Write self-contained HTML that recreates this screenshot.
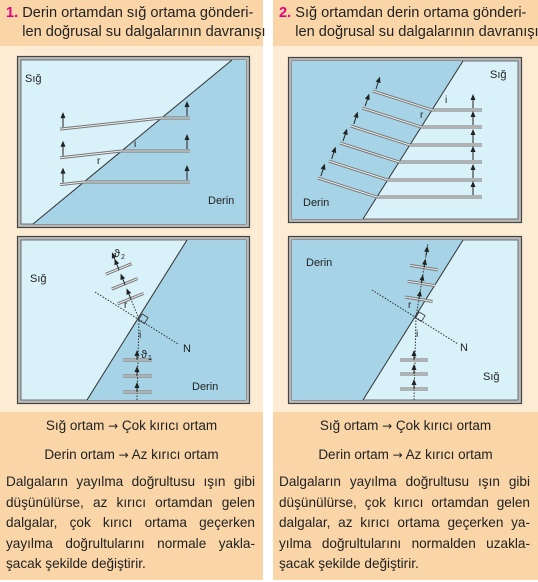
<!DOCTYPE html>
<html><head><meta charset="utf-8">
<style>
html,body{margin:0;padding:0;}
body{width:538px;height:582px;position:relative;background:#fff;font-family:"Liberation Sans",sans-serif;overflow:hidden;}
.col{position:absolute;top:0;height:580px;background:#fdecd4;}
.hdr{position:absolute;left:0;right:0;top:0;height:46px;background:#f9d5a8;}
.ftr{position:absolute;left:0;right:0;top:412px;height:168px;background:#f9d5a8;}
.h{position:absolute;left:6px;top:4px;font-size:14.6px;line-height:19px;color:#222;white-space:nowrap;}
.h b{color:#e4007f;}
.c{position:absolute;left:0;right:0;text-align:center;font-size:13.5px;color:#222;}
.c i{font-style:normal;font-family:"DejaVu Sans",sans-serif;font-size:12px;}
.p{position:absolute;left:6px;right:8px;top:472px;font-size:13.6px;line-height:20.5px;color:#222;text-align:justify;}
svg{position:absolute;left:0;top:0;}
</style></head><body>
<div class="col" style="left:0;width:263px">
 <div class="hdr"></div>
 <div class="h"><b>1.</b> Derin ortamdan sığ ortama gönderi-<br>&nbsp;&nbsp;&nbsp;&nbsp;len doğrusal su dalgalarının davranışı</div>
 <div class="ftr"></div>
 <div class="c" style="top:418px">Sığ ortam <i>→</i> Çok kırıcı ortam</div>
 <div class="c" style="top:447px">Derin ortam <i>→</i> Az kırıcı ortam</div>
 <div class="p">Dalgaların yayılma doğrultusu ışın gibi düşünülürse, az kırıcı ortamdan gelen dalgalar, çok kırıcı ortama geçerken yayılma doğrultularını normale yakla-şacak şekilde değiştirir.</div>
</div>
<div class="col" style="left:273px;width:265px">
 <div class="hdr"></div>
 <div class="h"><b>2.</b> Sığ ortamdan derin ortama gönderi-<br>&nbsp;&nbsp;&nbsp;&nbsp;len doğrusal su dalgalarının davranışı</div>
 <div class="ftr"></div>
 <div class="c" style="top:418px">Sığ ortam <i>→</i> Çok kırıcı ortam</div>
 <div class="c" style="top:447px">Derin ortam <i>→</i> Az kırıcı ortam</div>
 <div class="p">Dalgaların yayılma doğrultusu ışın gibi düşünülürse, çok kırıcı ortamdan gelen dalgalar, az kırıcı ortama geçerken ya-yılma doğrultularını normalden uzakla-şacak şekilde değiştirir.</div>
</div>
<svg id="s" width="538" height="582" font-family="Liberation Sans, sans-serif" font-size="11" fill="#222"></svg>
<script>
const leftRows=[118,151,182];
const rightRows=[110,127,145,162,180,197];
const NS="http://www.w3.org/2000/svg";
const S=document.getElementById('s');
function el(t,a,p){const e=document.createElementNS(NS,t);for(const k in a)e.setAttribute(k,a[k]);(p||S).appendChild(e);return e;}
function frame(x,y,w,h,name){
 const g=el('g',{});
 
 
 el('rect',{x:x+0.5,y:y+0.5,width:w-1,height:h-1,fill:'#b9b9b9',stroke:'#444','stroke-width':1.2},g);
 el('rect',{x:x+4,y:y+4,width:w-8,height:h-8,fill:'#d9f1f9',stroke:'#555','stroke-width':0.8},g);
 return g;}
function wave(g,x1,y1,x2,y2){el('line',{x1,y1,x2,y2,stroke:'#777','stroke-width':3},g);el('line',{x1,y1,x2,y2,stroke:'#eee','stroke-width':1},g);}
function arrow(g,x,y,dx,dy){const L=Math.hypot(dx,dy),ux=dx/L,uy=dy/L;const ex=x+dx,ey=y+dy;
 el('line',{x1:x,y1:y,x2:ex-ux*3,y2:ey-uy*3,stroke:'#222','stroke-width':1},g);
 el('polygon',{points:`${ex},${ey} ${ex-ux*6-uy*2.5},${ey-uy*6+ux*2.5} ${ex-ux*6+uy*2.5},${ey-uy*6-ux*2.5}`,fill:'#222'},g);}
function txt(g,x,y,s,name,sz){const t=el('text',{x,y,'font-size':sz||11},g);t.textContent=s;return t;}
function dots(g,x1,y1,x2,y2){el('line',{x1,y1,x2,y2,stroke:'#333','stroke-width':1,'stroke-dasharray':'1.5,1.5'},g);}
const DARK='#a6d3e5';
{const g=frame(17,56,233,172,'diagram-deep-to-shallow-waves');
 el('polygon',{points:'33,224 232,60 246,60 246,224',fill:DARK},g);
 el('line',{x1:33,y1:224,x2:232,y2:60,stroke:'#333','stroke-width':1},g);
 leftRows.forEach(y=>{const xb=33+(224-y)*199/164;wave(g,xb,y,190,y);wave(g,60,y+(xb-60)*0.11,xb,y);
  arrow(g,63,y+(xb-60)*0.11-2,0,-15);arrow(g,187,y-2,0,-15);});
 txt(g,25,82,'Sığ','label-shallow');txt(g,208,204,'Derin','label-deep');
 txt(g,134,147,'i','angle-i',10);txt(g,97,164,'r','angle-r',10);}
{const g=frame(17,236,233,168,'diagram-deep-to-shallow-ray');
 el('polygon',{points:'87,400 187,240 246,240 246,400',fill:DARK},g);
 el('line',{x1:87,y1:400,x2:187,y2:240,stroke:'#333','stroke-width':1},g);
 const px=139,py=319;dots(g,137,400,px,py);dots(g,95,292,178,344);
 [360,376,392].forEach(y=>{wave(g,123,y,152,y);arrow(g,137,y,0,-10);});
 const dx=-28,dy=-69,L=Math.hypot(dx,dy),ux=dx/L,uy=dy/L;
 dots(g,px,py,px+ux*20,py+uy*20);
 [22,38,54].forEach(d=>{const cx=px+ux*d,cy=py+uy*d;wave(g,cx+uy*14,cy-ux*14,cx-uy*14,cy+ux*14);arrow(g,cx-ux*1,cy-uy*1,ux*12,uy*12);});
 arrow(g,px+ux*62,py+uy*62,ux*10,uy*10);
 txt(g,30,282,'Sığ','label-shallow');txt(g,192,390,'Derin','label-deep');txt(g,183,352,'N','label-normal');
 txt(g,114,257,'ϑ','label-theta2');txt(g,121,259,'2','sub',7);txt(g,141,358,'ϑ','label-theta1');txt(g,148,360,'1','sub',7);
 txt(g,124,308,'r','angle-r',10);txt(g,139,338,'i','angle-i',10);
 el('rect',{x:139,y:313,width:7,height:7,fill:'none',stroke:'#333','stroke-width':0.8,transform:'rotate(32 139 319)'},g);}
{const g=frame(288,57,234,166,'diagram-shallow-to-deep-waves');
 el('polygon',{points:'292,61 463,61 363,219 292,219',fill:DARK},g);
 el('line',{x1:363,y1:219,x2:463,y2:61,stroke:'#333','stroke-width':1},g);
 const L=Math.hypot(56,18),ux=-56/L,uy=-18/L;
 rightRows.forEach(y=>{const xb=363+(219-y)*100/158;wave(g,xb,y,482,y);
  const ex=xb+ux*62,ey=y+uy*62;wave(g,ex,ey,xb,y);arrow(g,ex+3,ey-2,-uy*13,ux*13);arrow(g,473,y-2,0,-14);});
 txt(g,490,78,'Sığ','label-shallow');txt(g,303,206,'Derin','label-deep');
 txt(g,445,103,'i','angle-i',10);txt(g,420,118,'r','angle-r',10);}
{const g=frame(288,236,234,168,'diagram-shallow-to-deep-ray');
 el('polygon',{points:'292,240 463,240 363,400 292,400',fill:DARK},g);
 el('line',{x1:363,y1:400,x2:463,y2:240,stroke:'#333','stroke-width':1},g);
 const px=416,py=317;dots(g,414,400,px,py);dots(g,372,290,458,344);
 [360,374,389].forEach(y=>{wave(g,400,y,428,y);arrow(g,414,y,0,-10);});
 const dx=12,dy=-74,L=Math.hypot(dx,dy),ux=dx/L,uy=dy/L;
 dots(g,px,py,px+ux*74,py+uy*74);
 [18,34,50].forEach(d=>{const cx=px+ux*d,cy=py+uy*d;wave(g,cx+uy*14,cy-ux*14,cx-uy*14,cy+ux*14);arrow(g,cx,cy,ux*9,uy*9);});
 arrow(g,px+ux*62,py+uy*62,ux*10,uy*10);
 txt(g,306,266,'Derin','label-deep');txt(g,483,380,'Sığ','label-shallow');txt(g,460,351,'N','label-normal');
 txt(g,408,308,'r','angle-r',10);txt(g,416,337,'i','angle-i',10);
 el('rect',{x:416,y:311,width:7,height:7,fill:'none',stroke:'#333','stroke-width':0.8,transform:'rotate(32 416 317)'},g);}
</script>
</body></html>
